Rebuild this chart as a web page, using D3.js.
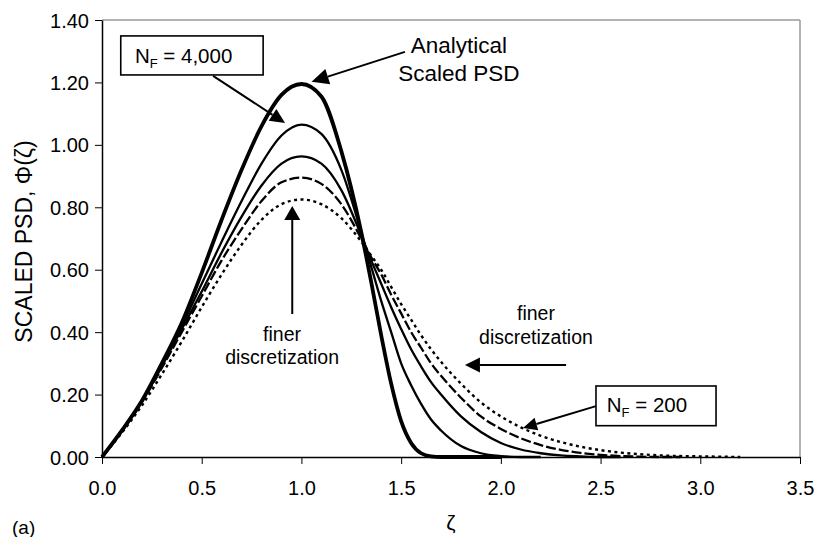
<!DOCTYPE html>
<html>
<head>
<meta charset="utf-8">
<script src="https://cdn.jsdelivr.net/npm/d3@7"></script>
<style>
  html, body { margin: 0; padding: 0; background: #fff; }
  svg { display: block; font-family: "Liberation Sans", Arial, Helvetica, sans-serif; }
</style>
</head>
<body>
<svg id="chart" width="817" height="537"></svg>
<script>
// Scaled particle size distribution vs. dimensionless size ζ
const zeta = [0, 0.1, 0.2, 0.3, 0.4, 0.5, 0.6, 0.7, 0.8, 0.9, 1.0, 1.1, 1.2, 1.3, 1.35, 1.4, 1.45, 1.5, 1.55, 1.6, 1.65, 1.7, 1.8, 1.9, 2.0, 2.1, 2.2, 2.3, 2.4, 2.5, 2.6, 2.7, 2.8, 2.9, 3.0, 3.1, 3.2];

const analytical = [0, 0.085, 0.18, 0.30, 0.43, 0.59, 0.76, 0.92, 1.06, 1.16, 1.195, 1.155, 0.98, 0.72, 0.56, 0.39, 0.235, 0.115, 0.045, 0.012, 0.002, 0, 0, 0, 0];
const nf4000 = [0, 0.085, 0.18, 0.295, 0.42, 0.555, 0.69, 0.82, 0.94, 1.03, 1.065, 1.035, 0.92, 0.72, 0.61, 0.50, 0.40, 0.30, 0.23, 0.17, 0.12, 0.085, 0.035, 0.012, 0.003, 0, 0];
const nfMid1 = [0, 0.084, 0.178, 0.29, 0.41, 0.53, 0.655, 0.77, 0.87, 0.94, 0.963, 0.94, 0.855, 0.71, 0.63, 0.555, 0.48, 0.41, 0.345, 0.29, 0.24, 0.20, 0.13, 0.08, 0.045, 0.024, 0.012, 0.005, 0.002, 0, 0];
const nfMid2 = [0, 0.082, 0.175, 0.285, 0.40, 0.515, 0.63, 0.73, 0.82, 0.88, 0.895, 0.875, 0.81, 0.70, 0.64, 0.585, 0.52, 0.46, 0.40, 0.35, 0.30, 0.26, 0.19, 0.13, 0.09, 0.06, 0.038, 0.023, 0.013, 0.007, 0.003, 0.001, 0, 0];
const nf200 = [0, 0.078, 0.165, 0.265, 0.37, 0.48, 0.585, 0.68, 0.76, 0.81, 0.825, 0.81, 0.765, 0.69, 0.645, 0.60, 0.545, 0.49, 0.44, 0.39, 0.345, 0.305, 0.235, 0.175, 0.13, 0.095, 0.068, 0.048, 0.033, 0.022, 0.014, 0.009, 0.005, 0.003, 0.002, 0.001, 0];

const xTicks = [0, 0.5, 1.0, 1.5, 2.0, 2.5, 3.0, 3.5];
const yTicks = [0, 0.2, 0.4, 0.6, 0.8, 1.0, 1.2, 1.4];

const series = [
  { values: analytical, width: 3.8, dash: null },
  { values: nf4000, width: 2.3, dash: null },
  { values: nfMid1, width: 2.3, dash: null },
  { values: nfMid2, width: 2.3, dash: "10,3" },
  { values: nf200, width: 2.4, dash: "3,3.5" }
];

const svg = d3.select("#chart");
const x = d3.scaleLinear().domain([0, 3.5]).range([102, 800]);
const y = d3.scaleLinear().domain([0, 1.4]).range([457, 20]);

// frame (top and right edges)
svg.append("line").attr("x1", x(0)).attr("x2", x(3.5)).attr("y1", y(1.4)).attr("y2", y(1.4))
  .attr("stroke", "#9a9a9a").attr("stroke-width", 1.5);
svg.append("line").attr("x1", x(3.5)).attr("x2", x(3.5)).attr("y1", y(1.4)).attr("y2", y(0))
  .attr("stroke", "#9a9a9a").attr("stroke-width", 1.5);

// axes
const xAxis = d3.axisBottom(x).tickValues(xTicks).tickFormat(d3.format(".1f")).tickSize(7).tickSizeOuter(0);
const yAxis = d3.axisLeft(y).tickValues(yTicks).tickFormat(d3.format(".2f")).tickSize(7).tickSizeOuter(0);

const gx = svg.append("g").attr("transform", `translate(0,${y(0)})`).call(xAxis);
const gy = svg.append("g").attr("transform", `translate(${x(0)},0)`).call(yAxis);
[gx, gy].forEach(g => {
  g.select(".domain").attr("stroke", "#000").attr("stroke-width", 1.5);
  g.selectAll(".tick line").attr("stroke", "#000").attr("stroke-width", 1);
  g.selectAll(".tick text").attr("fill", "#000").attr("font-size", 20)
    .attr("font-family", "Liberation Sans, Arial, sans-serif");
});
gx.selectAll(".tick text").attr("dy", null).attr("y", 38);
gy.selectAll(".tick text").attr("x", -13).attr("dy", "0.35em");

// curves
const line = d3.line()
  .defined(d => d[1] != null)
  .x(d => x(d[0]))
  .y(d => y(d[1]))
  .curve(d3.curveMonotoneX);

series.forEach(s => {
  const pts = s.values.map((v, i) => [zeta[i], v]);
  svg.append("path")
    .datum(pts)
    .attr("d", line)
    .attr("fill", "none")
    .attr("stroke", "#000")
    .attr("stroke-width", s.width)
    .attr("stroke-linejoin", "round")
    .attr("stroke-dasharray", s.dash);
});

// axis titles
svg.append("text")
  .attr("transform", `translate(32,${(y(0) + y(1.4)) / 2 + 3}) rotate(-90)`)
  .attr("text-anchor", "middle")
  .attr("font-size", 23)
  .text("SCALED PSD, Φ(ζ)");

svg.append("text")
  .attr("x", x(1.75)).attr("y", 530)
  .attr("text-anchor", "middle")
  .attr("font-size", 21)
  .text("ζ");

svg.append("text")
  .attr("x", 12).attr("y", 534)
  .attr("font-size", 19)
  .text("(a)");

// annotations (data coordinates)
function arrow(x1, y1, x2, y2, len, half) {
  const px1 = x(x1), py1 = y(y1), px2 = x(x2), py2 = y(y2);
  const ang = Math.atan2(py2 - py1, px2 - px1);
  const bx = px2 - len * Math.cos(ang), by = py2 - len * Math.sin(ang);
  svg.append("line")
    .attr("x1", px1).attr("y1", py1).attr("x2", bx).attr("y2", by)
    .attr("stroke", "#000").attr("stroke-width", 2);
  const nx = -Math.sin(ang) * half, ny = Math.cos(ang) * half;
  svg.append("path")
    .attr("d", `M${px2},${py2}L${bx + nx},${by + ny}L${bx - nx},${by - ny}Z`)
    .attr("fill", "#000");
}

function labelBox(x0, y0, x1, y1, tx, ty, main, sub, rest) {
  svg.append("rect")
    .attr("x", x(x0)).attr("y", y(y0))
    .attr("width", x(x1) - x(x0)).attr("height", y(y1) - y(y0))
    .attr("fill", "#fff").attr("stroke", "#000").attr("stroke-width", 1.6);
  const t = svg.append("text").attr("x", x(tx)).attr("y", y(ty)).attr("font-size", 20.5);
  t.append("tspan").text(main);
  t.append("tspan").attr("font-size", 13).attr("dy", 5).text(sub);
  t.append("tspan").attr("dy", -5).text(rest);
}

// N_F = 4,000 label and pointer
arrow(0.557, 1.221, 0.918, 1.070, 15, 7);
labelBox(0.094, 1.349, 0.808, 1.224, 0.165, 1.261, "N", "F", " = 4,000");

// analytical label and pointer
svg.append("text").attr("x", x(1.79)).attr("y", y(1.294))
  .attr("text-anchor", "middle").attr("font-size", 22.5).text("Analytical");
svg.append("text").attr("x", x(1.79)).attr("y", y(1.204))
  .attr("text-anchor", "middle").attr("font-size", 22.5).text("Scaled PSD");
arrow(1.519, 1.298, 1.051, 1.202, 17, 8);

// peak-height trend
arrow(0.954, 0.458, 0.954, 0.804, 14, 8);
svg.append("text").attr("x", x(0.903)).attr("y", y(0.373))
  .attr("text-anchor", "middle").attr("font-size", 19.5).text("finer");
svg.append("text").attr("x", x(0.903)).attr("y", y(0.298))
  .attr("text-anchor", "middle").attr("font-size", 19.5).text("discretization");

// tail trend
arrow(2.327, 0.295, 1.82, 0.295, 15, 7.5);
svg.append("text").attr("x", x(2.176)).attr("y", y(0.439))
  .attr("text-anchor", "middle").attr("font-size", 19.5).text("finer");
svg.append("text").attr("x", x(2.176)).attr("y", y(0.361))
  .attr("text-anchor", "middle").attr("font-size", 19.5).text("discretization");

// N_F = 200 label and pointer
arrow(2.477, 0.163, 2.111, 0.093, 14, 6.5);
labelBox(2.477, 0.2275, 3.079, 0.1003, 2.531, 0.145, "N", "F", " = 200");
</script>
</body>
</html>
